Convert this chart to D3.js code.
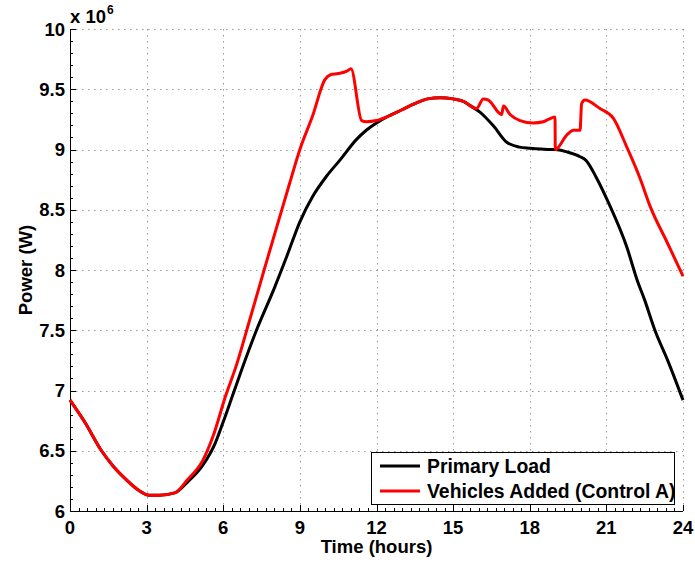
<!DOCTYPE html>
<html>
<head>
<meta charset="utf-8">
<script src="https://cdn.jsdelivr.net/npm/d3@7/dist/d3.min.js"></script>
<style>
  body { margin: 0; background: #fff; }
  svg { display: block; }
  text { font-family: "Liberation Sans", Arial, Helvetica, sans-serif; font-weight: bold; fill: #000; }
</style>
</head>
<body>
<svg id="chart" width="695" height="565"></svg>
<script>
// ---- data (power in units of 10^6 W) ----
const primaryHours = [0, 0.6, 1.2, 1.7, 2.2, 2.7, 3.1, 3.5, 4.1, 4.6, 5.2, 5.7, 6.0, 6.4, 6.7, 7.3, 8.0, 8.5, 9.0, 9.5, 10.05, 10.6, 11.2, 11.6, 12.0, 12.4, 13.0, 13.5, 14.0, 14.5, 15.0, 15.4, 15.7, 16.05, 16.6, 17.1, 17.6, 18.0, 18.7, 19.0, 19.45, 19.97, 20.2, 20.6, 21.1, 21.8, 22.2, 22.5, 22.9, 23.4, 24];
const primaryLoad = [6.92, 6.73, 6.51, 6.37, 6.26, 6.17, 6.13, 6.13, 6.15, 6.24, 6.38, 6.57, 6.74, 6.98, 7.16, 7.5, 7.85, 8.12, 8.40, 8.61, 8.78, 8.92, 9.08, 9.16, 9.22, 9.27, 9.33, 9.38, 9.42, 9.43, 9.42, 9.40, 9.36, 9.31, 9.19, 9.06, 9.02, 9.01, 9.0, 9.0, 8.98, 8.94, 8.91, 8.77, 8.55, 8.19, 7.92, 7.75, 7.5, 7.25, 6.92];

const vehicleHours = [0, 0.6, 1.2, 1.7, 2.2, 2.7, 3.1, 3.5, 4.1, 4.6, 5.2, 5.6, 6.1, 6.5, 7.0, 7.6, 8.0, 8.6, 9.0, 9.5, 9.98, 10.2, 10.5, 10.84, 11.0, 11.42, 11.6, 12.0, 12.4, 13.0, 13.5, 14.0, 14.5, 15.0, 15.4, 15.92, 16.18, 16.38, 16.9, 16.97, 17.23, 17.62, 18.14, 18.53, 18.73, 18.99, 19.0, 19.45, 19.71, 19.97, 20.03, 20.16, 20.75, 21.27, 21.8, 22.32, 22.71, 23.4, 24];
const vehicleLoad = [6.92, 6.73, 6.51, 6.37, 6.26, 6.17, 6.13, 6.13, 6.15, 6.26, 6.42, 6.62, 6.96, 7.2, 7.56, 8.0, 8.29, 8.72, 9.0, 9.28, 9.58, 9.62, 9.63, 9.65, 9.67, 9.24, 9.23, 9.24, 9.27, 9.33, 9.38, 9.42, 9.43, 9.42, 9.40, 9.34, 9.42, 9.41, 9.29, 9.36, 9.29, 9.24, 9.22, 9.23, 9.25, 9.27, 9.0, 9.12, 9.16, 9.16, 9.38, 9.41, 9.34, 9.26, 9.02, 8.76, 8.53, 8.22, 7.95];

const xTicks = [0, 3, 6, 9, 12, 15, 18, 21, 24];
const yTicks = [6, 6.5, 7, 7.5, 8, 8.5, 9, 9.5, 10];
const seriesNames = ["Primary Load", "Vehicles Added (Control A)"];
const seriesColors = ["#000000", "#ff0000"];

// ---- layout ----
const svg = d3.select("#chart");
const pLeft = 70, pRight = 683, pTop = 29, pBottom = 511;

const x = d3.scaleLinear().domain([0, 24]).range([pLeft, pRight]);
const y = d3.scaleLinear().domain([6, 10]).range([pBottom, pTop]);

// grid
const grid = svg.append("g").attr("stroke", "#999").attr("stroke-width", 1).attr("stroke-dasharray", "1.5,4.5");
grid.selectAll("line.gx").data(xTicks.slice(1)).join("line")
  .attr("x1", d => Math.round(x(d)) + 0.5).attr("x2", d => Math.round(x(d)) + 0.5)
  .attr("y1", pTop).attr("y2", pBottom);
grid.selectAll("line.gy").data(yTicks.slice(1)).join("line")
  .attr("y1", d => Math.round(y(d)) + 0.5).attr("y2", d => Math.round(y(d)) + 0.5)
  .attr("x1", pLeft).attr("x2", pRight);

// minor ticks
const xMinor = d3.range(0, 24.001, 1/3).filter(v => Math.abs(v / 3 - Math.round(v / 3)) > 1e-6);
const yMinor = d3.range(6, 10.001, 0.1).filter(v => Math.abs(v * 2 - Math.round(v * 2)) > 1e-6);
const axisG = svg.append("g").attr("stroke", "#000").attr("stroke-width", 1);
axisG.selectAll("line.mx").data(xMinor).join("line")
  .attr("x1", d => Math.round(x(d)) + 0.5).attr("x2", d => Math.round(x(d)) + 0.5)
  .attr("y1", pBottom).attr("y2", pBottom - 3);
axisG.selectAll("line.my").data(yMinor).join("line")
  .attr("y1", d => Math.round(y(d)) + 0.5).attr("y2", d => Math.round(y(d)) + 0.5)
  .attr("x1", pLeft).attr("x2", pLeft + 3);
// major ticks
axisG.selectAll("line.tx").data(xTicks).join("line")
  .attr("x1", d => Math.round(x(d)) + 0.5).attr("x2", d => Math.round(x(d)) + 0.5)
  .attr("y1", pBottom).attr("y2", pBottom - 6);
axisG.selectAll("line.ty").data(yTicks).join("line")
  .attr("y1", d => Math.round(y(d)) + 0.5).attr("y2", d => Math.round(y(d)) + 0.5)
  .attr("x1", pLeft).attr("x2", pLeft + 6);
// axis lines
axisG.append("line").attr("x1", pLeft + 0.5).attr("x2", pLeft + 0.5).attr("y1", pTop).attr("y2", pBottom + 0.5);
axisG.append("line").attr("x1", pLeft).attr("x2", pRight).attr("y1", pBottom + 0.5).attr("y2", pBottom + 0.5);

// tick labels
svg.append("g").selectAll("text").data(xTicks).join("text")
  .attr("x", d => x(d)).attr("y", pBottom + 23)
  .attr("text-anchor", "middle").attr("font-size", 18.5)
  .text(d => d);
svg.append("g").selectAll("text").data(yTicks).join("text")
  .attr("x", pLeft - 5).attr("y", d => y(d) + 6.5)
  .attr("text-anchor", "end").attr("font-size", 18.5)
  .text(d => d);

// exponent label
const expo = svg.append("text").attr("x", 70).attr("y", 23).attr("font-size", 18.5);
expo.append("tspan").text("x 10");
expo.append("tspan").attr("dy", -9).attr("dx", 1).attr("font-size", 12).text("6");

// axis titles
svg.append("text").attr("x", (pLeft + pRight) / 2).attr("y", 553)
  .attr("text-anchor", "middle").attr("font-size", 18.5).text("Time (hours)");
svg.append("text").attr("transform", `translate(32,${(pTop + pBottom) / 2}) rotate(-90)`)
  .attr("text-anchor", "middle").attr("font-size", 18.5).text("Power (W)");

// lines
const line = d3.line().x(d => x(d[0])).y(d => y(d[1])).curve(d3.curveMonotoneX);
const primaryPts = primaryHours.map((h, i) => [h, primaryLoad[i]]);
const vehiclePts = vehicleHours.map((h, i) => [h, vehicleLoad[i]]);
const plot = svg.append("g");
plot.append("path").datum(primaryPts).attr("d", line)
  .attr("fill", "none").attr("stroke", seriesColors[0]).attr("stroke-width", 3).attr("stroke-linejoin", "round");
plot.append("path").datum(vehiclePts).attr("d", line)
  .attr("fill", "none").attr("stroke", seriesColors[1]).attr("stroke-width", 3).attr("stroke-linejoin", "round");

// legend
const lg = svg.append("g");
lg.append("rect").attr("x", 371.5).attr("y", 452.5).attr("width", 303).attr("height", 52)
  .attr("fill", "#fff").attr("stroke", "#000").attr("stroke-width", 1);
seriesNames.forEach((name, i) => {
  const yy = 466 + i * 25;
  lg.append("line").attr("x1", 380).attr("x2", 420).attr("y1", yy).attr("y2", yy)
    .attr("stroke", seriesColors[i]).attr("stroke-width", 3);
  lg.append("text").attr("x", 427).attr("y", yy + 7).attr("font-size", 19.4).text(name);
});
</script>
</body>
</html>
